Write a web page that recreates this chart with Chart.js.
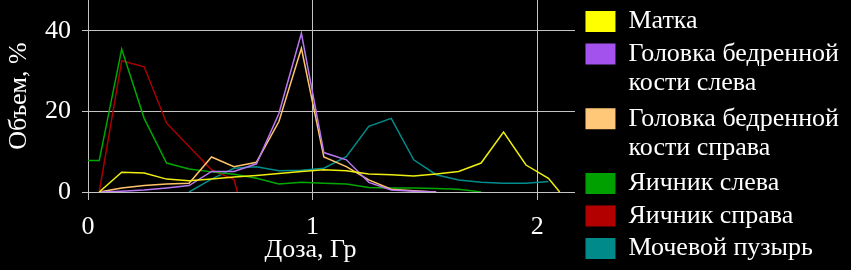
<!DOCTYPE html>
<html lang="ru">
<head>
    <meta charset="UTF-8">
    <title>Объем от дозы</title>
    <script src="https://cdn.jsdelivr.net/npm/chart.js"></script>
    <style>
        body { margin: 0; background: #000; }
        .box { width: 851px; height: 270px; position: relative; }
    </style>
</head>
<body>
    <div class="box">
        <canvas id="doseChart"></canvas>
    </div>

    <script>
        // данные: доза (Гр) и объем (%)
        const labels = ['Матка', 'Головка бедренной\nкости слева', 'Головка бедренной\nкости справа',
                        'Яичник слева', 'Яичник справа', 'Мочевой пузырь'];

        const uterusX = [0.05, 0.15, 0.25, 0.35, 0.45, 0.55, 0.65, 0.75, 0.85, 0.95, 1.05, 1.15, 1.25, 1.35, 1.45, 1.55, 1.65, 1.75, 1.85, 1.95, 2.05, 2.1];
        const uterusY = [0, 4.9, 4.7, 3.2, 2.8, 3.2, 3.7, 4.1, 4.6, 5.1, 5.5, 5.3, 4.5, 4.3, 4.0, 4.5, 5.1, 7.2, 14.9, 6.7, 3.4, 0];

        const femurLeftX = [0.05, 0.15, 0.25, 0.35, 0.45, 0.55, 0.65, 0.75, 0.85, 0.95, 1.05, 1.15, 1.25, 1.35, 1.45, 1.55];
        const femurLeftY = [0, 0.2, 0.5, 1.0, 1.6, 5.1, 5.1, 7.0, 19.5, 39.4, 9.8, 8.0, 2.4, 0.5, 0.2, 0];

        const femurRightX = [0.05, 0.15, 0.25, 0.35, 0.45, 0.55, 0.65, 0.75, 0.85, 0.95, 1.05, 1.15, 1.25, 1.35, 1.45, 1.55];
        const femurRightY = [0, 1.0, 1.6, 2.0, 2.2, 8.7, 6.3, 7.4, 17.5, 35.7, 8.7, 6.3, 3.0, 0.7, 0.3, 0];

        const ovaryLeftX = [0, 0.05, 0.15, 0.25, 0.35, 0.45, 0.55, 0.65, 0.75, 0.85, 0.95, 1.05, 1.15, 1.25, 1.35, 1.45, 1.55, 1.65, 1.75];
        const ovaryLeftY = [7.8, 7.8, 35.5, 18.3, 7.2, 5.7, 5.0, 4.4, 3.4, 2.0, 2.4, 2.2, 2.0, 1.1, 1.0, 1.0, 0.9, 0.7, 0];

        const ovaryRightX = [0.05, 0.15, 0.25, 0.35, 0.45, 0.55, 0.65, 0.665];
        const ovaryRightY = [0, 32.6, 31.1, 17.1, 11.3, 5.5, 3.1, 0];

        const bladderX = [0.45, 0.55, 0.65, 0.75, 0.85, 0.95, 1.05, 1.15, 1.25, 1.35, 1.45, 1.55, 1.65, 1.75, 1.85, 1.95, 2.05];
        const bladderY = [0, 3.2, 5.9, 6.3, 5.3, 5.4, 5.9, 8.8, 16.3, 18.3, 8.0, 4.3, 3.0, 2.4, 2.2, 2.2, 2.6];

        const lineColors = ['#eeee10', '#b878f4', '#ffc468', '#00a800', '#a80000', '#008c8c'];
        const boxColors = ['#ffff00', '#a452ee', '#ffc878', '#00a000', '#b20000', '#008a8a'];

        const series = [
            [uterusX, uterusY], [femurLeftX, femurLeftY], [femurRightX, femurRightY],
            [ovaryLeftX, ovaryLeftY], [ovaryRightX, ovaryRightY], [bladderX, bladderY]
        ];

        const FONT = 'Liberation Serif';
        const FSIZE = 26;
        const grid = '#c4c4c4';

        let datasets = series.map((s, i) => ({
            label: labels[i],
            data: s[0].map((x, k) => ({ x: x, y: s[1][k] })),
            borderColor: lineColors[i],
            backgroundColor: boxColors[i],
            borderWidth: 1.5,
            pointRadius: 0,
            tension: 0,
            fill: false
        }));

        // подпись оси X рисуем сами, чуть левее центра, как в оригинале
        const xTitle = {
            id: 'xTitle',
            afterDraw(chart) {
                const c = chart.ctx;
                const area = chart.chartArea;
                c.save();
                c.fillStyle = '#ffffff';
                c.font = FSIZE + 'px "' + FONT + '"';
                c.textAlign = 'center';
                c.textBaseline = 'middle';
                c.fillText('Доза, Гр', (area.left + area.right) / 2 - 21, 250);
                c.restore();
            }
        };

        // легенду чуть сдвигаем вправо и вниз
        const nudgeLegend = {
            id: 'nudgeLegend',
            afterLayout(chart) {
                const lg = chart.legend;
                lg.left += 4;
                lg.right += 4;
                lg.top += 2;
            }
        };

        let ctx = document.getElementById('doseChart').getContext('2d');
        new Chart(ctx, {
            type: 'line',
            data: { datasets: datasets },
            plugins: [xTitle, nudgeLegend],
            options: {
                responsive: true,
                maintainAspectRatio: false,
                animation: false,
                layout: { padding: { top: 0, right: 6, left: 0, bottom: 0 } },
                plugins: {
                    tooltip: { enabled: false },
                    legend: {
                        position: 'right',
                        align: 'start',
                        maxWidth: 300,
                        labels: {
                            color: '#ffffff',
                            boxWidth: 30,
                            boxHeight: 21,
                            padding: 6.5,
                            font: { family: FONT, size: FSIZE, lineHeight: 1.12 },
                            generateLabels: function(chart) {
                                return chart.data.datasets.map((ds, i) => {
                                    let parts = ds.label.split('\n');
                                    return {
                                        text: parts.length > 1 ? parts : parts[0],
                                        fillStyle: boxColors[i],
                                        strokeStyle: boxColors[i],
                                        lineWidth: 0,
                                        fontColor: '#ffffff',
                                        datasetIndex: i,
                                        hidden: false
                                    };
                                });
                            }
                        }
                    }
                },
                scales: {
                    x: {
                        type: 'linear',
                        min: 0,
                        max: 2.168,
                        afterFit: s => { s.height = 78; s.paddingLeft = 0; s.paddingRight = 0; },
                        border: { color: grid, width: 1 },
                        grid: { color: grid, tickLength: 8, tickColor: grid },
                        ticks: {
                            stepSize: 1,
                            includeBounds: false,
                            maxRotation: 0,
                            color: '#ffffff',
                            padding: 12,
                            font: { family: FONT, size: FSIZE }
                        }
                    },
                    y: {
                        min: 0,
                        max: 47.7,
                        afterFit: s => { s.width = 88; s.paddingTop = 0; s.paddingBottom = 0; },
                        border: { color: grid, width: 1 },
                        grid: { color: grid, tickLength: 6, tickColor: grid },
                        ticks: {
                            stepSize: 20,
                            includeBounds: false,
                            color: '#ffffff',
                            padding: 11,
                            font: { family: FONT, size: FSIZE }
                        },
                        title: {
                            display: true,
                            text: 'Объем, %',
                            color: '#ffffff',
                            padding: { top: 4, bottom: 0 },
                            font: { family: FONT, size: FSIZE }
                        }
                    }
                }
            }
        });
    </script>
</body>
</html>
